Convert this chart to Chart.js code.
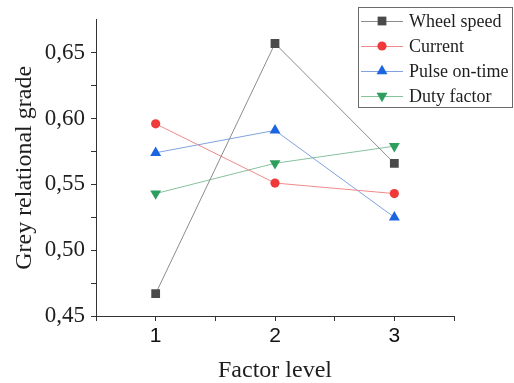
<!DOCTYPE html>
<html>
<head>
<meta charset="utf-8">
<script src="https://cdn.jsdelivr.net/npm/chart.js@4.4.1/dist/chart.umd.min.js"></script>
<style>
  html, body { margin: 0; padding: 0; background: #fff; }
  canvas { display: block; }
</style>
</head>
<body>
<canvas id="myChart" width="514" height="383"></canvas>
<script>
// factor levels on the x axis
var levels = [1, 2, 3];
var xTicks = [0.5, 1, 1.5, 2, 2.5, 3, 3.5];
var yTicks = [0.45, 0.475, 0.5, 0.525, 0.55, 0.575, 0.6, 0.625, 0.65];

// grey relational grade
var wheelSpeed = [0.467, 0.657, 0.566];
var current = [0.596, 0.551, 0.543];
var pulseOnTime = [0.574, 0.591, 0.525];
var dutyFactor = [0.543, 0.566, 0.579];

var seriesNames = ["Wheel speed", "Current", "Pulse on-time", "Duty factor"];

function toPoints(vals) {
    var pts = [];
    for (i = 0; i < vals.length; i++) {
        pts.push({ x: levels[i], y: vals[i] });
    }
    return pts;
}

var dataSets = [
    { label: seriesNames[0], data: toPoints(wheelSpeed), borderColor: "#8c8c8c", backgroundColor: "#4a4a4a",
      pointStyle: "rect", pointRadius: 6.2, pointRotation: 0 },
    { label: seriesNames[1], data: toPoints(current), borderColor: "#f08a8a", backgroundColor: "#f03a3a",
      pointStyle: "circle", pointRadius: 4.6, pointRotation: 0 },
    { label: seriesNames[2], data: toPoints(pulseOnTime), borderColor: "#7fa3e0", backgroundColor: "#1b66e0",
      pointStyle: "triangle", pointRadius: 6.3, pointRotation: 0 },
    { label: seriesNames[3], data: toPoints(dutyFactor), borderColor: "#86c29c", backgroundColor: "#2e9e5e",
      pointStyle: "triangle", pointRadius: 6.3, pointRotation: 180 }
];
for (i = 0; i < dataSets.length; i++) {
    dataSets[i].borderWidth = 1;
    dataSets[i].pointBorderWidth = 0;
    dataSets[i].pointBackgroundColor = dataSets[i].backgroundColor;
    dataSets[i].pointBorderColor = dataSets[i].backgroundColor;
    dataSets[i].fill = false;
    dataSets[i].tension = 0;
}

// legend box drawn in the top right corner, over the plot edge
var boxLegend = {
    id: "boxLegend",
    afterDraw: function (chart) {
        var ctx = chart.ctx;
        var left = 358, top = 7, right = 513, bottom = 108;
        ctx.save();
        ctx.fillStyle = "#fff";
        ctx.fillRect(left, top, right - left, bottom - top);
        ctx.strokeStyle = "#6a6a6a";
        ctx.lineWidth = 1;
        ctx.strokeRect(left + 0.5, top + 0.5, right - left - 1, bottom - top - 1);
        ctx.font = "18px 'Liberation Serif', 'Times New Roman', serif";
        ctx.textBaseline = "middle";
        for (var k = 0; k < dataSets.length; k++) {
            var ds = dataSets[k];
            var cy = 21 + k * 25;
            ctx.strokeStyle = ds.borderColor;
            ctx.beginPath();
            ctx.moveTo(361, cy + 0.5);
            ctx.lineTo(403, cy + 0.5);
            ctx.stroke();
            ctx.fillStyle = ds.backgroundColor;
            ctx.strokeStyle = ds.backgroundColor;
            Chart.helpers.drawPoint(ctx, {
                pointStyle: ds.pointStyle, radius: ds.pointRadius, rotation: ds.pointRotation, borderWidth: 0
            }, 382, cy);
            ctx.fillStyle = "#1e1e1e";
            ctx.fillText(ds.label, 409, cy + 1);
        }
        ctx.restore();
    }
};

var ctx = document.getElementById("myChart");
var chart = new Chart(ctx, {
    type: "line",
    data: { datasets: dataSets },
    plugins: [boxLegend],
    options: {
        responsive: false,
        animation: false,
        layout: { padding: { top: 16, right: 60, left: 0, bottom: 0 } },
        plugins: {
            legend: { display: false },
            tooltip: { enabled: false }
        },
        scales: {
            x: {
                type: "linear",
                min: 0.5,
                max: 3.5,
                afterFit: function (scale) { scale.height = 67; },
                afterBuildTicks: function (scale) {
                    scale.ticks = xTicks.map(function (v) { return { value: v }; });
                },
                border: { color: "#333", width: 1 },
                grid: { drawOnChartArea: false, drawTicks: true, tickLength: 5, tickColor: "#333" },
                ticks: {
                    padding: 3,
                    color: "#111",
                    maxRotation: 0,
                    autoSkip: false,
                    font: { family: "'Liberation Sans', Arial, sans-serif", size: 21 },
                    callback: function (v) { return Number.isInteger(v) ? String(v) : ""; }
                },
                title: {
                    display: true,
                    text: "Factor level",
                    color: "#1e1e1e",
                    padding: { top: 0, bottom: 0 },
                    font: { family: "'Liberation Serif', 'Times New Roman', serif", size: 24, lineHeight: 1 }
                }
            },
            y: {
                type: "linear",
                min: 0.45,
                max: 0.675,
                afterFit: function (scale) { scale.width = 96; },
                afterBuildTicks: function (scale) {
                    scale.ticks = yTicks.map(function (v) { return { value: v }; });
                },
                border: { color: "#333", width: 1 },
                grid: { drawOnChartArea: false, drawTicks: true, tickLength: 5, tickColor: "#333" },
                ticks: {
                    padding: 6,
                    color: "#1e1e1e",
                    autoSkip: false,
                    font: { family: "'Liberation Serif', 'Times New Roman', serif", size: 23 },
                    callback: function (v) {
                        var r = Math.round(v * 1000);
                        return r % 50 === 0 ? v.toFixed(2).replace(".", ",") : "";
                    }
                },
                title: {
                    display: true,
                    text: "Grey relational grade",
                    color: "#1e1e1e",
                    padding: { top: 13, bottom: 0 },
                    font: { family: "'Liberation Serif', 'Times New Roman', serif", size: 24, lineHeight: 1 }
                }
            }
        }
    }
});
</script>
</body>
</html>
